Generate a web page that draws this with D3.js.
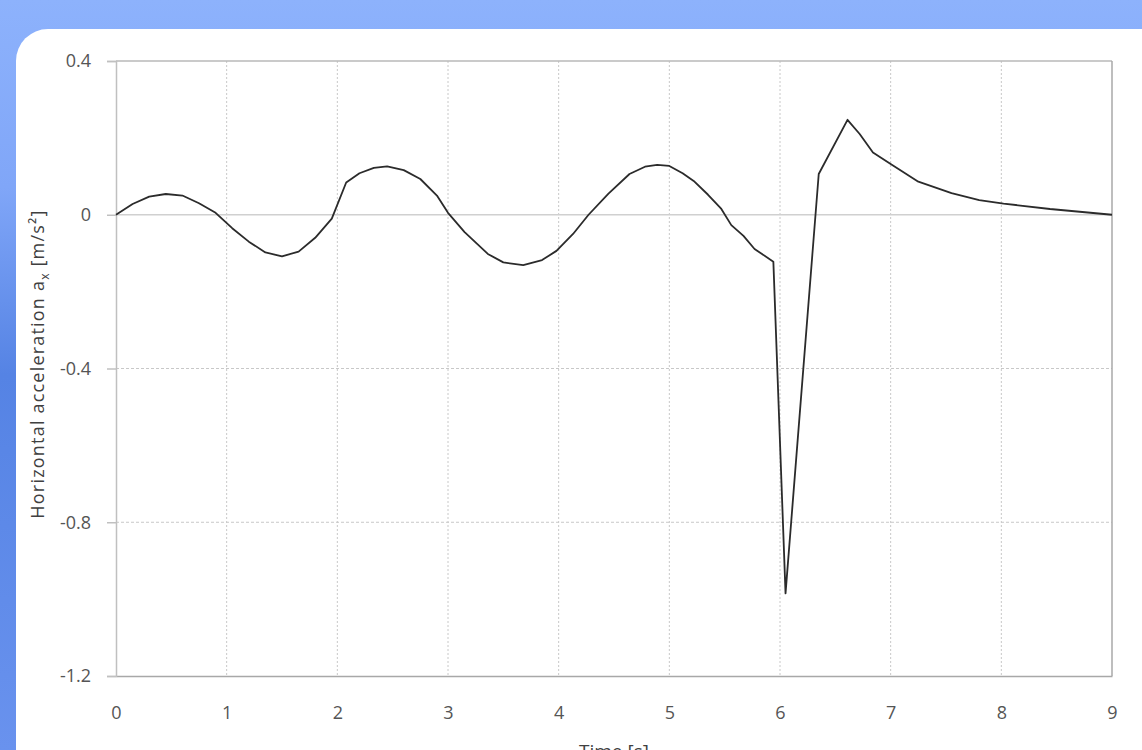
<!DOCTYPE html>
<html>
<head>
<meta charset="utf-8">
<script src="https://cdn.jsdelivr.net/npm/d3@7"></script>
<style>
  html, body { margin: 0; padding: 0; overflow: hidden; }
  svg { display: block; }
  text { font-family: "Open Sans", "Noto Sans", sans-serif; }
</style>
</head>
<body>
<svg id="chart"></svg>
<script>
// acceleration record
var times = [0, 0.15, 0.3, 0.45, 0.6, 0.75, 0.9, 1.05, 1.2, 1.35, 1.5, 1.65, 1.8, 1.95, 2.08, 2.2, 2.33, 2.45, 2.6, 2.75,
  2.9, 3.0, 3.15, 3.36, 3.5, 3.68, 3.85, 3.98, 4.13, 4.27, 4.45, 4.64, 4.78, 4.89, 5.0, 5.12, 5.22, 5.35, 5.47, 5.56,
  5.67, 5.77, 5.94, 6.05, 6.35, 6.61, 6.72, 6.84, 7.0, 7.25, 7.55, 7.8, 8.02, 8.44, 9.0];
var accel = [0, 0.028, 0.047, 0.054, 0.05, 0.03, 0.005, -0.035, -0.07, -0.098, -0.108, -0.096, -0.06, -0.01, 0.084, 0.108, 0.122, 0.126, 0.116, 0.093,
  0.05, 0.005, -0.045, -0.102, -0.124, -0.131, -0.118, -0.094, -0.05, 0.0, 0.055, 0.106, 0.125, 0.13, 0.127, 0.108, 0.088, 0.052, 0.015, -0.027,
  -0.055, -0.089, -0.122, -0.985, 0.106, 0.247, 0.21, 0.162, 0.132, 0.086, 0.056, 0.038, 0.029, 0.015, 0];
var xTicks = [0, 1, 2, 3, 4, 5, 6, 7, 8, 9];
var yTicks = [0.4, 0, -0.4, -0.8, -1.2];

var W = 1142, H = 750;
var margin = { top: 61, right: 30, bottom: 74, left: 116 },
    width = 1112 - margin.left,
    height = 676 - margin.top;

var svg = d3.select("#chart").attr("width", W).attr("height", H);

var defs = svg.append("defs");
var grad = defs.append("linearGradient").attr("id", "bg").attr("x1", 0).attr("y1", 0).attr("x2", 0).attr("y2", 1);
grad.append("stop").attr("offset", "0%").attr("stop-color", "#8db2fc");
grad.append("stop").attr("offset", "25%").attr("stop-color", "#80a6f8");
grad.append("stop").attr("offset", "50%").attr("stop-color", "#5583e4");
grad.append("stop").attr("offset", "100%").attr("stop-color", "#6992ee");

svg.append("rect").attr("width", W).attr("height", H).attr("fill", "url(#bg)");
svg.append("rect").attr("x", 16).attr("y", 29).attr("width", 1160).attr("height", 820)
  .attr("rx", 32).attr("fill", "#fff");

var x = d3.scaleLinear().domain([0, 9]).range([0, width]);
var y = d3.scaleLinear().domain([-1.2, 0.4]).range([height, 0]);

var chart = svg.append("g").attr("transform", "translate(" + margin.left + "," + margin.top + ")");

// vertical dotted grid
chart.append("g").selectAll("line")
  .data(xTicks.slice(1, -1))
  .enter().append("line")
  .attr("x1", function(d) { return x(d); }).attr("x2", function(d) { return x(d); })
  .attr("y1", 0).attr("y2", height)
  .attr("stroke", "#c8c8c8").attr("stroke-width", 1).attr("stroke-dasharray", "2,2");

// horizontal dashed grid
chart.append("g").selectAll("line")
  .data([-0.4, -0.8])
  .enter().append("line")
  .attr("x1", 0).attr("x2", width)
  .attr("y1", function(d) { return y(d); }).attr("y2", function(d) { return y(d); })
  .attr("stroke", "#c8c8c8").attr("stroke-width", 1).attr("stroke-dasharray", "3,2");

// zero line, top and right border
chart.append("line").attr("x1", 0).attr("x2", width).attr("y1", y(0)).attr("y2", y(0))
  .attr("stroke", "#d0d0d0").attr("stroke-width", 1.5);
chart.append("line").attr("x1", 0).attr("x2", width).attr("y1", 0).attr("y2", 0)
  .attr("stroke", "#b8b8b8").attr("stroke-width", 1.5);
chart.append("line").attr("x1", width).attr("x2", width).attr("y1", 0).attr("y2", height)
  .attr("stroke", "#a8a8a8").attr("stroke-width", 1.5);

var xAxis = d3.axisBottom(x).tickValues(xTicks).tickSize(0).tickPadding(30).tickFormat(d3.format("d"));
var gx = chart.append("g").attr("transform", "translate(0," + height + ")").call(xAxis);
gx.select(".domain").attr("stroke", "#a8a8a8").attr("stroke-width", 1.5);

var yAxis = d3.axisLeft(y).tickValues(yTicks).tickSize(9).tickPadding(16)
  .tickFormat(function(d) { return d === 0 ? "0" : d.toFixed(1); });
var gy = chart.append("g").call(yAxis);
gy.select(".domain").attr("stroke", "#c0c0c0").attr("stroke-width", 1.5);
gy.selectAll(".tick line").attr("stroke", "#c0c0c0").attr("stroke-width", 1.5);

chart.selectAll(".tick text").attr("fill", "#555").style("font-size", "18px");

var line = d3.line()
  .x(function(d, i) { return x(times[i]); })
  .y(function(d) { return y(d); });

chart.append("path")
  .datum(accel)
  .attr("fill", "none")
  .attr("stroke", "#2b2b2b")
  .attr("stroke-width", 1.8)
  .attr("stroke-linejoin", "round")
  .attr("d", line);

// axis titles
var yl = svg.append("text")
  .attr("transform", "translate(44,364) rotate(-90)")
  .attr("text-anchor", "middle")
  .attr("fill", "#404040")
  .style("font-size", "18px")
  .style("letter-spacing", "1.2px");
yl.append("tspan").text("Horizontal acceleration a");
yl.append("tspan").attr("dy", 5).style("font-size", "12px").text("x");
yl.append("tspan").attr("dy", -5).text(" [m/s²]");

svg.append("text")
  .attr("x", margin.left + width / 2).attr("y", 758)
  .attr("text-anchor", "middle")
  .attr("fill", "#404040")
  .style("font-size", "19px")
  .text("Time [s]");
</script>
</body>
</html>
